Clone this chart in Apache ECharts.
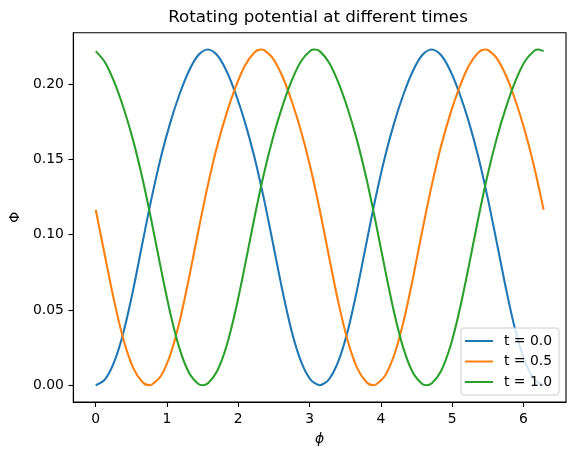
<!DOCTYPE html>
<html>
<head>
<meta charset="utf-8">
<script src="https://cdn.jsdelivr.net/npm/echarts@6/dist/echarts.min.js"></script>
<style>
  html, body { margin: 0; padding: 0; background: #fff; }
  #chart { width: 576px; height: 459px; }
</style>
</head>
<body>
<div id="chart"></div>
<script>
// angle samples (rad), 0 .. 2pi
const phi = [0, 0.131, 0.262, 0.393, 0.524, 0.654, 0.785, 0.916, 1.047, 1.178, 1.309, 1.440,
  1.571, 1.702, 1.833, 1.963, 2.094, 2.225, 2.356, 2.487, 2.618, 2.749, 2.880, 3.011,
  3.142, 3.272, 3.403, 3.534, 3.665, 3.796, 3.927, 4.058, 4.189, 4.320, 4.451, 4.581,
  4.712, 4.843, 4.974, 5.105, 5.236, 5.367, 5.498, 5.629, 5.760, 5.890, 6.021, 6.152, 6.283]

// potential, one list per time
const phiT00 = [0, 0.0039, 0.0158, 0.0359, 0.0631, 0.0941, 0.1246, 0.1518, 0.1746, 0.1936, 0.2089, 0.2193,
  0.2230, 0.2193, 0.2089, 0.1936, 0.1746, 0.1518, 0.1246, 0.0941, 0.0631, 0.0359, 0.0158, 0.0039,
  0, 0.0039, 0.0158, 0.0359, 0.0631, 0.0941, 0.1246, 0.1518, 0.1746, 0.1936, 0.2089, 0.2193,
  0.2230, 0.2193, 0.2089, 0.1936, 0.1746, 0.1518, 0.1246, 0.0941, 0.0631, 0.0359, 0.0158, 0.0039, 0]
const phiT05 = [0.1166, 0.0855, 0.0552, 0.0297, 0.0117, 0.0021, 0.0003, 0.0063, 0.0204, 0.0427, 0.0713, 0.1026,
  0.1324, 0.1585, 0.1802, 0.1981, 0.2123, 0.2210, 0.2227, 0.2170, 0.2052, 0.1888, 0.1688, 0.1448,
  0.1166, 0.0855, 0.0552, 0.0297, 0.0117, 0.0021, 0.0003, 0.0063, 0.0204, 0.0427, 0.0713, 0.1026,
  0.1324, 0.1585, 0.1802, 0.1981, 0.2123, 0.2210, 0.2227, 0.2170, 0.2052, 0.1888, 0.1688, 0.1448, 0.1166]
const phiT10 = [0.2219, 0.2144, 0.2012, 0.1838, 0.1628, 0.1376, 0.1084, 0.0771, 0.0477, 0.0240, 0.0083, 0.0008,
  0.0011, 0.0093, 0.0257, 0.0500, 0.0796, 0.1109, 0.1398, 0.1646, 0.1852, 0.2023, 0.2152, 0.2222,
  0.2219, 0.2144, 0.2012, 0.1838, 0.1628, 0.1376, 0.1084, 0.0771, 0.0477, 0.0240, 0.0083, 0.0008,
  0.0011, 0.0093, 0.0257, 0.0500, 0.0796, 0.1109, 0.1398, 0.1646, 0.1852, 0.2023, 0.2152, 0.2222, 0.2219]

const extremaPhiT05 = [0.75, 2.32, 3.89, 5.46]
const extremaValT05 = [0, 0.223, 0, 0.223]
const extremaPhiT10 = [1.50, 3.07, 4.64, 6.21]
const extremaValT10 = [0, 0.223, 0, 0.223]

const seriesNames = ['t = 0.0', 't = 0.5', 't = 1.0']
const xTicks = [0, 1, 2, 3, 4, 5, 6]
const yTicks = [0, 0.05, 0.10, 0.15, 0.20]

const font = 'DejaVu Sans'
const colors = ['#1f77b4', '#ff7f0e', '#2ca02c']

// join grid samples with the extra extremum points, sorted by angle
const toPairs = (ys, exX = [], exY = []) =>
  phi.map((x, i) => [x, ys[i]])
    .concat(exX.map((x, i) => [x, exY[i]]))
    .sort((a, b) => a[0] - b[0])

const seriesData = [
  toPairs(phiT00),
  toPairs(phiT05, extremaPhiT05, extremaValT05),
  toPairs(phiT10, extremaPhiT10, extremaValT10),
]

const chart = echarts.init(document.getElementById('chart'))

const option = {
  animation: false,
  color: colors,
  title: {
    text: 'Rotating potential at different times',
    left: 318,
    textAlign: 'center',
    top: 9,
    padding: 0,
    textStyle: { fontFamily: font, fontSize: 16.7, fontWeight: 'normal', color: '#000' },
  },
  legend: {
    orient: 'vertical',
    right: 17,
    top: 328,
    icon: 'rect',
    itemWidth: 28,
    itemHeight: 2,
    itemGap: 6.5,
    padding: [6, 7, 6, 4],
    backgroundColor: 'rgba(255,255,255,0.8)',
    borderColor: '#cccccc',
    borderWidth: 1,
    borderRadius: 3,
    textStyle: { fontFamily: font, fontSize: 13.9, color: '#000', lineHeight: 14, padding: [0, 0, 0, 6] },
    data: seriesNames,
  },
  grid: { left: 70.8, right: 10, top: 32.7, bottom: 57, show: true, borderColor: '#000', borderWidth: 1.1 },
  xAxis: {
    type: 'value',
    min: -0.3142,
    max: 6.5973,
    name: 'ϕ',
    nameLocation: 'middle',
    nameGap: 30,
    nameTextStyle: { fontFamily: font, fontSize: 13.9, fontStyle: 'italic', color: '#000' },
    axisLine: { show: true, onZero: false, lineStyle: { color: '#000', width: 1.1 } },
    axisTick: { show: true, length: 4.9, lineStyle: { color: '#000', width: 1.1 }, customValues: xTicks },
    axisLabel: { fontFamily: font, fontSize: 13.9, color: '#000', margin: 10, customValues: xTicks },
    splitLine: { show: false },
  },
  yAxis: {
    type: 'value',
    min: -0.01115,
    max: 0.23415,
    name: 'Φ',
    nameLocation: 'middle',
    nameRotate: 90,
    nameGap: 49,
    nameTextStyle: { fontFamily: font, fontSize: 13.9, color: '#000' },
    axisLine: { show: true, onZero: false, lineStyle: { color: '#000', width: 1.1 } },
    axisTick: { show: true, length: 4.9, lineStyle: { color: '#000', width: 1.1 }, customValues: yTicks },
    axisLabel: {
      fontFamily: font, fontSize: 13.9, color: '#000', margin: 9.5, customValues: yTicks,
      formatter: (v) => v.toFixed(2),
    },
    splitLine: { show: false },
  },
  series: seriesData.map((data, i) => ({
    name: seriesNames[i],
    type: 'line',
    data: data,
    showSymbol: false,
    smooth: 0.3,
    lineStyle: { width: 2.1, color: colors[i] },
  })),
}

chart.setOption(option)
</script>
</body>
</html>
